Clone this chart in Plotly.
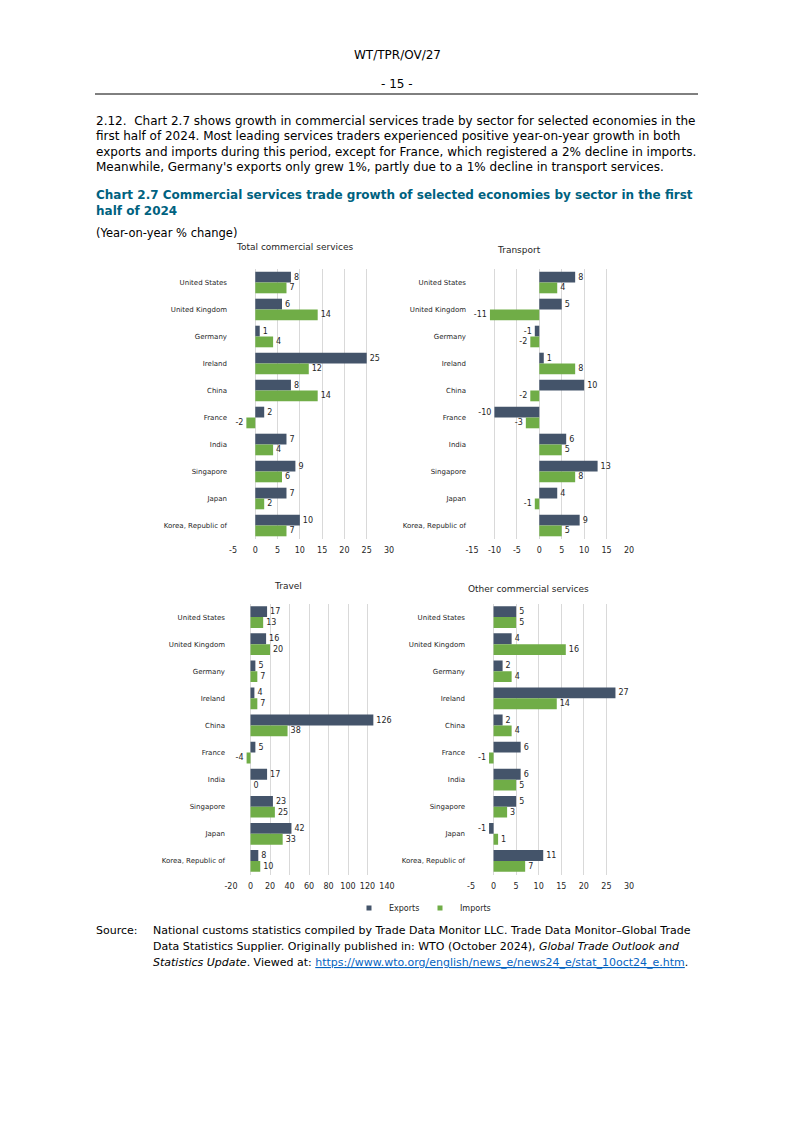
import plotly.graph_objects as go

W, H = 793, 1121
OFF = 8  # page offset of the figure inside the html body

countries = ["United States", "United Kingdom", "Germany", "Ireland", "China",
             "France", "India", "Singapore", "Japan", "Korea, Republic of"]

total_exports = [8, 6, 1, 25, 8, 2, 7, 9, 7, 10]
total_imports = [7, 14, 4, 12, 14, -2, 4, 6, 2, 7]
transport_exports = [8, 5, -1, 1, 10, -10, 6, 13, 4, 9]
transport_imports = [4, -11, -2, 8, -2, -3, 5, 8, -1, 5]
travel_exports = [17, 16, 5, 4, 126, 5, 17, 23, 42, 8]
travel_imports = [13, 20, 7, 7, 38, -4, 0, 25, 33, 10]
other_exports = [5, 4, 2, 27, 2, 6, 6, 5, -1, 11]
other_imports = [5, 16, 4, 14, 4, -1, 5, 3, 1, 7]

total_ticks = [-5, 0, 5, 10, 15, 20, 25, 30]
transport_ticks = [-15, -10, -5, 0, 5, 10, 15, 20]
travel_ticks = [-20, 0, 20, 40, 60, 80, 100, 120, 140]
other_ticks = [-5, 0, 5, 10, 15, 20, 25, 30]

panel_titles = ["Total commercial services", "Transport", "Travel", "Other commercial services"]
series_names = ["Exports", "Imports"]

EXP_COLOR = "#44546A"
IMP_COLOR = "#70AD47"
FONT = "DejaVu Sans"
TXT = "#262626"


def px(x):
    return (x - OFF) / W


def py(y):
    return 1 - (y - OFF) / H


# panel geometry in page pixels: (x0, x1, y_top, y_bottom)
panels = [
    (total_exports, total_imports, (233, 389, 269, 539), total_ticks, (294, 247)),
    (transport_exports, transport_imports, (472, 629, 269, 539), transport_ticks, (519, 250)),
    (travel_exports, travel_imports, (231, 387, 603.5, 874.5), travel_ticks, (288, 586)),
    (other_exports, other_imports, (471, 629, 603.5, 874.5), other_ticks, (528, 589)),
]

fig = go.Figure()
annotations = []

for i, (exp, imp, box, ticks, tpos) in enumerate(panels):
    n = "" if i == 0 else str(i + 1)
    xa, ya = "x" + n, "y" + n
    for vals, name, col in [(exp, series_names[0], EXP_COLOR), (imp, series_names[1], IMP_COLOR)]:
        fig.add_trace(go.Bar(
            x=vals, y=countries, orientation="h", name=name,
            marker=dict(color=col, line=dict(width=0)),
            text=[str(v) for v in vals], textposition="outside",
            textfont=dict(family=FONT, size=8, color=TXT),
            constraintext="none", cliponaxis=False,
            xaxis=xa, yaxis=ya, showlegend=False, legendgroup=name,
            hovertemplate="%{y}: %{x}<extra>" + name + "</extra>",
        ))
    x0, x1, yt, yb = box
    fig.layout["xaxis" + n] = dict(
        domain=[px(x0), px(x1)], range=[ticks[0], ticks[-1]], anchor=ya,
        tickmode="array", tickvals=ticks, ticktext=[str(t) for t in ticks],
        showgrid=True, gridcolor="#D9D9D9", gridwidth=1, zeroline=False,
        showline=False, ticks="", ticklabelstandoff=5,
        tickfont=dict(family=FONT, size=8, color=TXT), fixedrange=True,
    )
    fig.layout["yaxis" + n] = dict(
        domain=[py(yb), py(yt)], anchor=xa, autorange="reversed",
        type="category", showgrid=False, zeroline=False, showline=False, ticks="",
        ticklabelstandoff=5,
        tickfont=dict(family=FONT, size=7, color=TXT), fixedrange=True,
    )
    annotations.append(dict(
        text=panel_titles[i], x=px(tpos[0]), y=py(tpos[1]), xref="paper", yref="paper",
        xanchor="center", yanchor="middle", showarrow=False,
        font=dict(family=FONT, size=9, color=TXT),
    ))

# legend entries
for name, col in [(series_names[0], EXP_COLOR), (series_names[1], IMP_COLOR)]:
    fig.add_trace(go.Scatter(
        x=[None], y=[None], mode="markers", name=name, legendgroup=name,
        marker=dict(symbol="square", size=5, color=col), showlegend=True,
        xaxis="x", yaxis="y",
    ))

PAGE_FONT = dict(family=FONT, size=12, color="#000000")


def text_ann(t, x, y, font=None, xanchor="left"):
    annotations.append(dict(
        text=t, x=px(x), y=py(y), xref="paper", yref="paper", xanchor=xanchor,
        yanchor="middle", showarrow=False, font=font or PAGE_FONT, align="left",
        borderpad=0,
    ))


text_ann("WT/TPR/OV/27", 397, 55, xanchor="center")
text_ann("- 15 -", 397, 84, xanchor="center")

para = [
    "2.12.\u00a0 Chart 2.7 shows growth in commercial services trade by sector for selected economies in the",
    "first half of 2024. Most leading services traders experienced positive year-on-year growth in both",
    "exports and imports during this period, except for France, which registered a 2% decline in imports.",
    "Meanwhile, Germany's exports only grew 1%, partly due to a 1% decline in transport services.",
]
for k, line in enumerate(para):
    text_ann(line, 95, 121 + k * 15.3)

TITLE_FONT = dict(family=FONT, size=12, color="#00627F")
text_ann("<b>Chart 2.7 Commercial services trade growth of selected economies by sector in the first</b>", 95, 195, TITLE_FONT)
text_ann("<b>half of 2024</b>", 95, 211, TITLE_FONT)
text_ann("(Year-on-year % change)", 95, 233, dict(family=FONT, size=11.5, color="#000000"))

SRC_FONT = dict(family=FONT, size=11, color="#000000")
text_ann("Source:", 95, 930, SRC_FONT)
src = [
    "National customs statistics compiled by Trade Data Monitor LLC. Trade Data Monitor\u2013Global Trade",
    "Data Statistics Supplier. Originally published in: WTO (October 2024), <i>Global Trade Outlook and</i>",
    "<i>Statistics Update</i>. Viewed at: <a href=\"https://www.wto.org/english/news_e/news24_e/stat_10oct24_e.htm\">"
    "<span style=\"color:#0563C1\"><u>https://www.wto.org/english/news_e/news24_e/stat_10oct24_e.htm</u></span></a>.",
]
for k, line in enumerate(src):
    text_ann(line, 152, 930 + k * 16, SRC_FONT)

fig.update_layout(
    width=W, height=H, autosize=False, margin=dict(l=0, r=0, t=0, b=0, autoexpand=False),
    paper_bgcolor="white", plot_bgcolor="white",
    barmode="group", bargap=0.2, bargroupgap=0,
    font=dict(family=FONT, color=TXT),
    annotations=annotations,
    shapes=[dict(type="line", xref="paper", yref="paper", x0=px(95), x1=px(698),
                 y0=py(94), y1=py(94), line=dict(color="#000000", width=1))],
    legend=dict(orientation="h", x=px(349), y=py(908), xanchor="left", yanchor="middle",
                font=dict(family=FONT, size=8, color=TXT), bgcolor="rgba(0,0,0,0)",
                itemwidth=30, entrywidth=26, entrywidthmode="pixels", tracegroupgap=0),
)

fig.write_html("out.html", config={"responsive": False})
